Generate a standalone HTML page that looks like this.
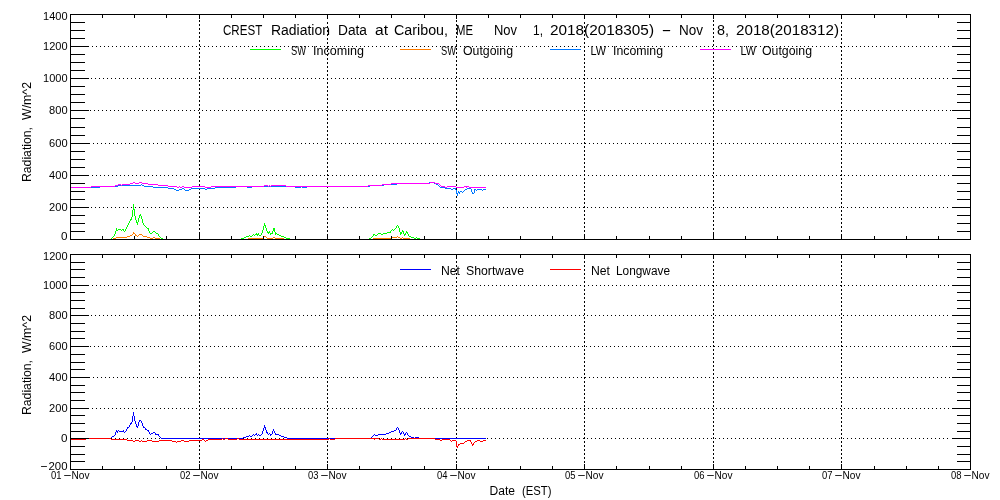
<!DOCTYPE html>
<html lang="en"><head><meta charset="utf-8"><title>CREST Radiation Data at Caribou, ME</title>
<style>html,body{margin:0;padding:0;background:#fff;}body{width:1000px;height:500px;overflow:hidden;}svg{display:block;}text{font-family:"Liberation Sans",sans-serif;fill:#000;}.t{font-size:14px;}.l{font-size:12.5px;}.a{font-size:11px;}.g line,.g path,.g rect{shape-rendering:crispEdges;}path{fill:none;stroke-width:1;}line{stroke:#000;stroke-width:1;}</style></head><body>
<svg width="1000" height="500" viewBox="0 0 1000 500" class="g">
<rect x="0" y="0" width="1000" height="500" fill="#fff"/>
<line x1="92" y1="46.5" x2="951" y2="46.5" stroke-dasharray="1 3"/>
<line x1="91" y1="78.5" x2="951" y2="78.5" stroke-dasharray="1 3"/>
<line x1="90" y1="110.5" x2="951" y2="110.5" stroke-dasharray="1 3"/>
<line x1="93" y1="143.5" x2="951" y2="143.5" stroke-dasharray="1 3"/>
<line x1="92" y1="175.5" x2="951" y2="175.5" stroke-dasharray="1 3"/>
<line x1="91" y1="207.5" x2="951" y2="207.5" stroke-dasharray="1 3"/>
<line x1="92" y1="285.5" x2="951" y2="285.5" stroke-dasharray="1 3"/>
<line x1="91" y1="315.5" x2="951" y2="315.5" stroke-dasharray="1 3"/>
<line x1="90" y1="346.5" x2="951" y2="346.5" stroke-dasharray="1 3"/>
<line x1="93" y1="377.5" x2="951" y2="377.5" stroke-dasharray="1 3"/>
<line x1="92" y1="408.5" x2="951" y2="408.5" stroke-dasharray="1 3"/>
<line x1="91" y1="438.5" x2="951" y2="438.5" stroke-dasharray="1 3"/>
<line x1="199.5" y1="20" x2="199.5" y2="239" stroke-dasharray="2 2"/>
<line x1="327.5" y1="22" x2="327.5" y2="239" stroke-dasharray="2 2"/>
<line x1="456.5" y1="20" x2="456.5" y2="239" stroke-dasharray="2 2"/>
<line x1="584.5" y1="22" x2="584.5" y2="239" stroke-dasharray="2 2"/>
<line x1="713.5" y1="20" x2="713.5" y2="239" stroke-dasharray="2 2"/>
<line x1="841.5" y1="22" x2="841.5" y2="239" stroke-dasharray="2 2"/>
<line x1="199.5" y1="261" x2="199.5" y2="469" stroke-dasharray="2 2"/>
<line x1="327.5" y1="261" x2="327.5" y2="469" stroke-dasharray="2 2"/>
<line x1="456.5" y1="261" x2="456.5" y2="469" stroke-dasharray="2 2"/>
<line x1="584.5" y1="261" x2="584.5" y2="469" stroke-dasharray="2 2"/>
<line x1="713.5" y1="261" x2="713.5" y2="469" stroke-dasharray="2 2"/>
<line x1="841.5" y1="261" x2="841.5" y2="469" stroke-dasharray="2 2"/>
<path d="M133 204.5h1M133 205.5h1M133 206.5h1M133 207.5h1M133 208.5h1M133 209.5h2M132 210.5h1M134 210.5h1M132 211.5h1M134 211.5h1M132 212.5h1M134 212.5h1M132 213.5h1M134 213.5h1M132 214.5h1M134 214.5h1M140 214.5h1M132 215.5h1M134 215.5h1M139 215.5h2M132 216.5h1M135 216.5h1M139 216.5h1M141 216.5h1M131 217.5h1M135 217.5h1M139 217.5h1M141 217.5h1M131 218.5h1M135 218.5h1M138 218.5h1M141 218.5h1M130 219.5h2M135 219.5h1M138 219.5h1M142 219.5h1M130 220.5h1M136 220.5h1M138 220.5h1M142 220.5h1M129 221.5h1M136 221.5h1M138 221.5h1M142 221.5h1M129 222.5h1M136 222.5h2M142 222.5h1M128 223.5h1M137 223.5h1M143 223.5h1M128 224.5h1M137 224.5h1M143 224.5h1M127 225.5h1M144 225.5h1M127 226.5h1M145 226.5h1M126 227.5h1M146 227.5h1M116 228.5h1M126 228.5h1M147 228.5h2M116 229.5h1M118 229.5h3M122 229.5h2M125 229.5h1M148 229.5h1M116 230.5h2M121 230.5h1M123 230.5h1M125 230.5h1M148 230.5h1M115 231.5h1M124 231.5h1M149 231.5h1M153 231.5h2M115 232.5h1M149 232.5h1M152 232.5h1M155 232.5h1M115 233.5h1M150 233.5h2M156 233.5h2M114 234.5h1M158 234.5h1M114 235.5h1M158 235.5h1M113 236.5h1M159 236.5h1M112 237.5h1M160 237.5h1M111 238.5h1M161 238.5h2M110 239.5h1" stroke="#00ff00"/>
<path d="M264 223.5h1M264 224.5h1M264 225.5h2M263 226.5h1M265 226.5h1M263 227.5h1M265 227.5h1M263 228.5h1M266 228.5h1M273 228.5h2M263 229.5h1M266 229.5h1M273 229.5h2M262 230.5h1M266 230.5h1M273 230.5h2M262 231.5h1M267 231.5h1M269 231.5h1M272 231.5h1M274 231.5h1M262 232.5h1M267 232.5h3M272 232.5h1M275 232.5h1M256 233.5h1M258 233.5h1M261 233.5h1M268 233.5h1M270 233.5h3M275 233.5h2M253 234.5h1M255 234.5h4M261 234.5h1M270 234.5h1M275 234.5h1M277 234.5h2M249 235.5h1M252 235.5h1M254 235.5h1M257 235.5h1M259 235.5h2M279 235.5h2M246 236.5h3M250 236.5h2M281 236.5h3M244 237.5h2M284 237.5h2M241 238.5h3M286 238.5h4M240 239.5h1M290 239.5h1" stroke="#00ff00"/>
<path d="M397 225.5h1M396 226.5h1M398 226.5h1M396 227.5h1M398 227.5h1M395 228.5h1M399 228.5h1M392 229.5h1M394 229.5h1M399 229.5h1M391 230.5h1M393 230.5h1M399 230.5h1M402 230.5h1M390 231.5h1M399 231.5h1M402 231.5h2M406 231.5h1M387 232.5h4M400 232.5h2M403 232.5h1M406 232.5h2M378 233.5h3M383 233.5h4M400 233.5h2M403 233.5h1M405 233.5h1M407 233.5h1M373 234.5h2M377 234.5h1M381 234.5h2M400 234.5h1M404 234.5h2M408 234.5h1M373 235.5h1M375 235.5h2M404 235.5h1M408 235.5h1M372 236.5h1M409 236.5h2M371 237.5h1M411 237.5h3M416 237.5h1M369 238.5h2M414 238.5h2M417 238.5h3M369 239.5h1" stroke="#00ff00"/>
<path d="M133 232.5h1M133 233.5h2M132 234.5h1M135 234.5h1M139 234.5h3M130 235.5h2M135 235.5h2M138 235.5h1M142 235.5h1M127 236.5h3M137 236.5h1M143 236.5h4M116 237.5h11M147 237.5h3M153 237.5h2M113 238.5h3M150 238.5h3M155 238.5h5" stroke="#ff7d00"/>
<path d="M264 236.5h2M263 237.5h1M266 237.5h1M273 237.5h2M248 238.5h16M267 238.5h6M275 238.5h9" stroke="#ff7d00"/>
<path d="M397 236.5h1M391 237.5h6M398 237.5h2M402 237.5h1M373 238.5h18M400 238.5h2M403 238.5h7" stroke="#ff7d00"/>
<path d="M429 182.5h5M397 183.5h32M434 183.5h2M141 184.5h1M384 184.5h13M436 184.5h2M118 185.5h23M142 185.5h2M370 185.5h14M438 185.5h1M100 186.5h18M144 186.5h9M236 186.5h11M252 186.5h43M301 186.5h1M307 186.5h63M439 186.5h1M70 187.5h30M153 187.5h15M215 187.5h21M247 187.5h5M295 187.5h6M302 187.5h5M440 187.5h5M168 188.5h6M182 188.5h2M191 188.5h14M207 188.5h8M445 188.5h6M453 188.5h3M467 188.5h4M174 189.5h2M179 189.5h3M184 189.5h1M189 189.5h2M205 189.5h2M451 189.5h2M455 189.5h1M465 189.5h2M471 189.5h1M474 189.5h2M477 189.5h5M483 189.5h3M176 190.5h3M185 190.5h4M456 190.5h1M464 190.5h1M471 190.5h1M474 190.5h1M476 190.5h1M482 190.5h1M456 191.5h1M458 191.5h1M460 191.5h2M463 191.5h1M471 191.5h1M474 191.5h1M456 192.5h1M458 192.5h2M462 192.5h1M472 192.5h1M474 192.5h1M456 193.5h2M459 193.5h1M472 193.5h2M457 194.5h1M457 195.5h1" stroke="#0078ff"/>
<path d="M133 182.5h2M139 182.5h3M430 182.5h5M130 183.5h3M135 183.5h4M142 183.5h6M391 183.5h39M435 183.5h4M118 184.5h3M122 184.5h8M148 184.5h10M382 184.5h9M439 184.5h1M115 185.5h3M121 185.5h1M158 185.5h10M264 185.5h4M269 185.5h1M271 185.5h15M368 185.5h14M440 185.5h1M91 186.5h24M168 186.5h9M179 186.5h1M182 186.5h2M192 186.5h13M211 186.5h53M268 186.5h1M270 186.5h1M286 186.5h82M441 186.5h4M447 186.5h9M464 186.5h5M70 187.5h21M177 187.5h2M180 187.5h2M184 187.5h8M205 187.5h6M445 187.5h2M456 187.5h8M466 187.5h1M469 187.5h17" stroke="#ff00ff"/>
<path d="M133 412.5h1M133 413.5h1M133 414.5h1M133 415.5h1M132 416.5h1M134 416.5h1M132 417.5h1M134 417.5h1M132 418.5h1M134 418.5h1M132 419.5h1M134 419.5h1M132 420.5h1M134 420.5h1M139 420.5h2M132 421.5h1M135 421.5h1M139 421.5h1M141 421.5h1M131 422.5h1M135 422.5h1M138 422.5h1M141 422.5h1M130 423.5h2M135 423.5h1M138 423.5h1M142 423.5h1M130 424.5h1M136 424.5h1M138 424.5h1M142 424.5h1M129 425.5h1M136 425.5h1M138 425.5h1M142 425.5h1M264 425.5h1M129 426.5h1M136 426.5h2M143 426.5h1M264 426.5h1M127 427.5h2M137 427.5h1M143 427.5h2M264 427.5h2M397 427.5h1M127 428.5h1M145 428.5h1M263 428.5h1M265 428.5h1M396 428.5h1M398 428.5h1M126 429.5h1M145 429.5h2M263 429.5h1M265 429.5h1M273 429.5h1M396 429.5h1M398 429.5h1M116 430.5h1M118 430.5h1M123 430.5h1M126 430.5h1M147 430.5h2M263 430.5h1M266 430.5h1M273 430.5h1M394 430.5h2M399 430.5h1M116 431.5h2M119 431.5h5M125 431.5h1M148 431.5h1M262 431.5h1M266 431.5h1M272 431.5h1M274 431.5h1M391 431.5h3M399 431.5h1M402 431.5h1M115 432.5h1M117 432.5h1M124 432.5h1M149 432.5h1M153 432.5h2M262 432.5h1M266 432.5h2M272 432.5h1M274 432.5h1M389 432.5h2M399 432.5h1M401 432.5h1M403 432.5h1M406 432.5h1M115 433.5h1M149 433.5h1M151 433.5h2M155 433.5h1M256 433.5h1M262 433.5h1M267 433.5h1M269 433.5h1M272 433.5h1M275 433.5h1M386 433.5h3M400 433.5h2M403 433.5h1M405 433.5h1M407 433.5h1M115 434.5h1M150 434.5h1M155 434.5h4M253 434.5h1M255 434.5h2M258 434.5h1M261 434.5h1M268 434.5h1M270 434.5h2M275 434.5h4M374 434.5h1M378 434.5h8M400 434.5h1M404 434.5h2M407 434.5h1M114 435.5h1M158 435.5h1M249 435.5h1M252 435.5h1M254 435.5h1M257 435.5h1M259 435.5h2M270 435.5h1M279 435.5h2M373 435.5h1M375 435.5h3M404 435.5h1M408 435.5h1M112 436.5h2M159 436.5h1M246 436.5h3M250 436.5h2M281 436.5h3M372 436.5h1M409 436.5h2M111 437.5h1M160 437.5h1M243 437.5h3M284 437.5h3M371 437.5h1M411 437.5h3M415 437.5h4M70 438.5h41M161 438.5h82M287 438.5h84M414 438.5h1M419 438.5h67" stroke="#0000ff"/>
<path d="M86 438.5h25M222 438.5h1M225 438.5h3M237 438.5h2M329 438.5h1M335 438.5h44M381 438.5h1M405 438.5h1M408 438.5h27M70 439.5h16M111 439.5h16M202 439.5h2M208 439.5h14M223 439.5h2M228 439.5h9M239 439.5h90M330 439.5h5M374 439.5h1M379 439.5h2M382 439.5h23M406 439.5h2M435 439.5h5M442 439.5h8M127 440.5h6M135 440.5h4M141 440.5h1M147 440.5h5M159 440.5h13M181 440.5h3M189 440.5h13M204 440.5h1M206 440.5h2M440 440.5h2M450 440.5h1M452 440.5h4M467 440.5h4M477 440.5h3M483 440.5h3M133 441.5h2M139 441.5h2M142 441.5h5M152 441.5h7M172 441.5h4M177 441.5h4M184 441.5h5M205 441.5h1M451 441.5h1M456 441.5h1M465 441.5h2M470 441.5h1M475 441.5h2M480 441.5h3M176 442.5h1M456 442.5h1M464 442.5h1M471 442.5h1M474 442.5h1M456 443.5h1M460 443.5h4M471 443.5h1M473 443.5h1M456 444.5h1M458 444.5h2M472 444.5h2M456 445.5h1M458 445.5h1M472 445.5h1M456 446.5h2M457 447.5h1" stroke="#ff0000"/>
<line x1="250" y1="49.5" x2="281" y2="49.5" style="stroke:#00ff00"/>
<line x1="400" y1="49.5" x2="431" y2="49.5" style="stroke:#ff7d00"/>
<line x1="550" y1="49.5" x2="581" y2="49.5" style="stroke:#0078ff"/>
<line x1="700" y1="49.5" x2="731" y2="49.5" style="stroke:#ff00ff"/>
<line x1="400" y1="269.5" x2="431" y2="269.5" style="stroke:#0000ff"/>
<line x1="550" y1="269.5" x2="581" y2="269.5" style="stroke:#ff0000"/>
<line x1="70" y1="14.5" x2="971" y2="14.5"/>
<line x1="70" y1="239.5" x2="971" y2="239.5"/>
<line x1="70.5" y1="14" x2="70.5" y2="240"/>
<line x1="970.5" y1="14" x2="970.5" y2="240"/>
<line x1="70" y1="239.5" x2="89" y2="239.5"/>
<line x1="952" y1="239.5" x2="971" y2="239.5"/>
<line x1="70" y1="231.5" x2="85" y2="231.5"/>
<line x1="957" y1="231.5" x2="971" y2="231.5"/>
<line x1="70" y1="223.5" x2="85" y2="223.5"/>
<line x1="957" y1="223.5" x2="971" y2="223.5"/>
<line x1="70" y1="215.5" x2="85" y2="215.5"/>
<line x1="957" y1="215.5" x2="971" y2="215.5"/>
<line x1="70" y1="207.5" x2="89" y2="207.5"/>
<line x1="952" y1="207.5" x2="971" y2="207.5"/>
<line x1="70" y1="199.5" x2="85" y2="199.5"/>
<line x1="957" y1="199.5" x2="971" y2="199.5"/>
<line x1="70" y1="191.5" x2="85" y2="191.5"/>
<line x1="957" y1="191.5" x2="971" y2="191.5"/>
<line x1="70" y1="183.5" x2="85" y2="183.5"/>
<line x1="957" y1="183.5" x2="971" y2="183.5"/>
<line x1="70" y1="175.5" x2="89" y2="175.5"/>
<line x1="952" y1="175.5" x2="971" y2="175.5"/>
<line x1="70" y1="167.5" x2="85" y2="167.5"/>
<line x1="957" y1="167.5" x2="971" y2="167.5"/>
<line x1="70" y1="159.5" x2="85" y2="159.5"/>
<line x1="957" y1="159.5" x2="971" y2="159.5"/>
<line x1="70" y1="151.5" x2="85" y2="151.5"/>
<line x1="957" y1="151.5" x2="971" y2="151.5"/>
<line x1="70" y1="143.5" x2="89" y2="143.5"/>
<line x1="952" y1="143.5" x2="971" y2="143.5"/>
<line x1="70" y1="135.5" x2="85" y2="135.5"/>
<line x1="957" y1="135.5" x2="971" y2="135.5"/>
<line x1="70" y1="127.5" x2="85" y2="127.5"/>
<line x1="957" y1="127.5" x2="971" y2="127.5"/>
<line x1="70" y1="118.5" x2="85" y2="118.5"/>
<line x1="957" y1="118.5" x2="971" y2="118.5"/>
<line x1="70" y1="110.5" x2="89" y2="110.5"/>
<line x1="952" y1="110.5" x2="971" y2="110.5"/>
<line x1="70" y1="102.5" x2="85" y2="102.5"/>
<line x1="957" y1="102.5" x2="971" y2="102.5"/>
<line x1="70" y1="94.5" x2="85" y2="94.5"/>
<line x1="957" y1="94.5" x2="971" y2="94.5"/>
<line x1="70" y1="86.5" x2="85" y2="86.5"/>
<line x1="957" y1="86.5" x2="971" y2="86.5"/>
<line x1="70" y1="78.5" x2="89" y2="78.5"/>
<line x1="952" y1="78.5" x2="971" y2="78.5"/>
<line x1="70" y1="70.5" x2="85" y2="70.5"/>
<line x1="957" y1="70.5" x2="971" y2="70.5"/>
<line x1="70" y1="62.5" x2="85" y2="62.5"/>
<line x1="957" y1="62.5" x2="971" y2="62.5"/>
<line x1="70" y1="54.5" x2="85" y2="54.5"/>
<line x1="957" y1="54.5" x2="971" y2="54.5"/>
<line x1="70" y1="46.5" x2="89" y2="46.5"/>
<line x1="952" y1="46.5" x2="971" y2="46.5"/>
<line x1="70" y1="38.5" x2="85" y2="38.5"/>
<line x1="957" y1="38.5" x2="971" y2="38.5"/>
<line x1="70" y1="30.5" x2="85" y2="30.5"/>
<line x1="957" y1="30.5" x2="971" y2="30.5"/>
<line x1="70" y1="22.5" x2="85" y2="22.5"/>
<line x1="957" y1="22.5" x2="971" y2="22.5"/>
<line x1="70" y1="14.5" x2="89" y2="14.5"/>
<line x1="952" y1="14.5" x2="971" y2="14.5"/>
<line x1="70.5" y1="14" x2="70.5" y2="19"/>
<line x1="70.5" y1="234" x2="70.5" y2="240"/>
<line x1="102.5" y1="14" x2="102.5" y2="18"/>
<line x1="102.5" y1="236" x2="102.5" y2="240"/>
<line x1="134.5" y1="14" x2="134.5" y2="18"/>
<line x1="134.5" y1="236" x2="134.5" y2="240"/>
<line x1="166.5" y1="14" x2="166.5" y2="18"/>
<line x1="166.5" y1="236" x2="166.5" y2="240"/>
<line x1="199.5" y1="14" x2="199.5" y2="19"/>
<line x1="199.5" y1="234" x2="199.5" y2="240"/>
<line x1="231.5" y1="14" x2="231.5" y2="18"/>
<line x1="231.5" y1="236" x2="231.5" y2="240"/>
<line x1="263.5" y1="14" x2="263.5" y2="18"/>
<line x1="263.5" y1="236" x2="263.5" y2="240"/>
<line x1="295.5" y1="14" x2="295.5" y2="18"/>
<line x1="295.5" y1="236" x2="295.5" y2="240"/>
<line x1="327.5" y1="14" x2="327.5" y2="19"/>
<line x1="327.5" y1="234" x2="327.5" y2="240"/>
<line x1="359.5" y1="14" x2="359.5" y2="18"/>
<line x1="359.5" y1="236" x2="359.5" y2="240"/>
<line x1="391.5" y1="14" x2="391.5" y2="18"/>
<line x1="391.5" y1="236" x2="391.5" y2="240"/>
<line x1="424.5" y1="14" x2="424.5" y2="18"/>
<line x1="424.5" y1="236" x2="424.5" y2="240"/>
<line x1="456.5" y1="14" x2="456.5" y2="19"/>
<line x1="456.5" y1="234" x2="456.5" y2="240"/>
<line x1="488.5" y1="14" x2="488.5" y2="18"/>
<line x1="488.5" y1="236" x2="488.5" y2="240"/>
<line x1="520.5" y1="14" x2="520.5" y2="18"/>
<line x1="520.5" y1="236" x2="520.5" y2="240"/>
<line x1="552.5" y1="14" x2="552.5" y2="18"/>
<line x1="552.5" y1="236" x2="552.5" y2="240"/>
<line x1="584.5" y1="14" x2="584.5" y2="19"/>
<line x1="584.5" y1="234" x2="584.5" y2="240"/>
<line x1="616.5" y1="14" x2="616.5" y2="18"/>
<line x1="616.5" y1="236" x2="616.5" y2="240"/>
<line x1="649.5" y1="14" x2="649.5" y2="18"/>
<line x1="649.5" y1="236" x2="649.5" y2="240"/>
<line x1="681.5" y1="14" x2="681.5" y2="18"/>
<line x1="681.5" y1="236" x2="681.5" y2="240"/>
<line x1="713.5" y1="14" x2="713.5" y2="19"/>
<line x1="713.5" y1="234" x2="713.5" y2="240"/>
<line x1="745.5" y1="14" x2="745.5" y2="18"/>
<line x1="745.5" y1="236" x2="745.5" y2="240"/>
<line x1="777.5" y1="14" x2="777.5" y2="18"/>
<line x1="777.5" y1="236" x2="777.5" y2="240"/>
<line x1="809.5" y1="14" x2="809.5" y2="18"/>
<line x1="809.5" y1="236" x2="809.5" y2="240"/>
<line x1="841.5" y1="14" x2="841.5" y2="19"/>
<line x1="841.5" y1="234" x2="841.5" y2="240"/>
<line x1="874.5" y1="14" x2="874.5" y2="18"/>
<line x1="874.5" y1="236" x2="874.5" y2="240"/>
<line x1="906.5" y1="14" x2="906.5" y2="18"/>
<line x1="906.5" y1="236" x2="906.5" y2="240"/>
<line x1="938.5" y1="14" x2="938.5" y2="18"/>
<line x1="938.5" y1="236" x2="938.5" y2="240"/>
<line x1="970.5" y1="14" x2="970.5" y2="19"/>
<line x1="970.5" y1="234" x2="970.5" y2="240"/>
<line x1="70" y1="254.5" x2="971" y2="254.5"/>
<line x1="70" y1="469.5" x2="971" y2="469.5"/>
<line x1="70.5" y1="254" x2="70.5" y2="470"/>
<line x1="970.5" y1="254" x2="970.5" y2="470"/>
<line x1="70" y1="469.5" x2="89" y2="469.5"/>
<line x1="952" y1="469.5" x2="971" y2="469.5"/>
<line x1="70" y1="461.5" x2="85" y2="461.5"/>
<line x1="957" y1="461.5" x2="971" y2="461.5"/>
<line x1="70" y1="454.5" x2="85" y2="454.5"/>
<line x1="957" y1="454.5" x2="971" y2="454.5"/>
<line x1="70" y1="446.5" x2="85" y2="446.5"/>
<line x1="957" y1="446.5" x2="971" y2="446.5"/>
<line x1="70" y1="438.5" x2="89" y2="438.5"/>
<line x1="952" y1="438.5" x2="971" y2="438.5"/>
<line x1="70" y1="431.5" x2="85" y2="431.5"/>
<line x1="957" y1="431.5" x2="971" y2="431.5"/>
<line x1="70" y1="423.5" x2="85" y2="423.5"/>
<line x1="957" y1="423.5" x2="971" y2="423.5"/>
<line x1="70" y1="415.5" x2="85" y2="415.5"/>
<line x1="957" y1="415.5" x2="971" y2="415.5"/>
<line x1="70" y1="408.5" x2="89" y2="408.5"/>
<line x1="952" y1="408.5" x2="971" y2="408.5"/>
<line x1="70" y1="400.5" x2="85" y2="400.5"/>
<line x1="957" y1="400.5" x2="971" y2="400.5"/>
<line x1="70" y1="392.5" x2="85" y2="392.5"/>
<line x1="957" y1="392.5" x2="971" y2="392.5"/>
<line x1="70" y1="385.5" x2="85" y2="385.5"/>
<line x1="957" y1="385.5" x2="971" y2="385.5"/>
<line x1="70" y1="377.5" x2="89" y2="377.5"/>
<line x1="952" y1="377.5" x2="971" y2="377.5"/>
<line x1="70" y1="369.5" x2="85" y2="369.5"/>
<line x1="957" y1="369.5" x2="971" y2="369.5"/>
<line x1="70" y1="362.5" x2="85" y2="362.5"/>
<line x1="957" y1="362.5" x2="971" y2="362.5"/>
<line x1="70" y1="354.5" x2="85" y2="354.5"/>
<line x1="957" y1="354.5" x2="971" y2="354.5"/>
<line x1="70" y1="346.5" x2="89" y2="346.5"/>
<line x1="952" y1="346.5" x2="971" y2="346.5"/>
<line x1="70" y1="338.5" x2="85" y2="338.5"/>
<line x1="957" y1="338.5" x2="971" y2="338.5"/>
<line x1="70" y1="331.5" x2="85" y2="331.5"/>
<line x1="957" y1="331.5" x2="971" y2="331.5"/>
<line x1="70" y1="323.5" x2="85" y2="323.5"/>
<line x1="957" y1="323.5" x2="971" y2="323.5"/>
<line x1="70" y1="315.5" x2="89" y2="315.5"/>
<line x1="952" y1="315.5" x2="971" y2="315.5"/>
<line x1="70" y1="308.5" x2="85" y2="308.5"/>
<line x1="957" y1="308.5" x2="971" y2="308.5"/>
<line x1="70" y1="300.5" x2="85" y2="300.5"/>
<line x1="957" y1="300.5" x2="971" y2="300.5"/>
<line x1="70" y1="292.5" x2="85" y2="292.5"/>
<line x1="957" y1="292.5" x2="971" y2="292.5"/>
<line x1="70" y1="285.5" x2="89" y2="285.5"/>
<line x1="952" y1="285.5" x2="971" y2="285.5"/>
<line x1="70" y1="277.5" x2="85" y2="277.5"/>
<line x1="957" y1="277.5" x2="971" y2="277.5"/>
<line x1="70" y1="269.5" x2="85" y2="269.5"/>
<line x1="957" y1="269.5" x2="971" y2="269.5"/>
<line x1="70" y1="262.5" x2="85" y2="262.5"/>
<line x1="957" y1="262.5" x2="971" y2="262.5"/>
<line x1="70" y1="254.5" x2="89" y2="254.5"/>
<line x1="952" y1="254.5" x2="971" y2="254.5"/>
<line x1="70.5" y1="254" x2="70.5" y2="259"/>
<line x1="70.5" y1="464" x2="70.5" y2="470"/>
<line x1="102.5" y1="254" x2="102.5" y2="258"/>
<line x1="102.5" y1="466" x2="102.5" y2="470"/>
<line x1="134.5" y1="254" x2="134.5" y2="258"/>
<line x1="134.5" y1="466" x2="134.5" y2="470"/>
<line x1="166.5" y1="254" x2="166.5" y2="258"/>
<line x1="166.5" y1="466" x2="166.5" y2="470"/>
<line x1="199.5" y1="254" x2="199.5" y2="259"/>
<line x1="199.5" y1="464" x2="199.5" y2="470"/>
<line x1="231.5" y1="254" x2="231.5" y2="258"/>
<line x1="231.5" y1="466" x2="231.5" y2="470"/>
<line x1="263.5" y1="254" x2="263.5" y2="258"/>
<line x1="263.5" y1="466" x2="263.5" y2="470"/>
<line x1="295.5" y1="254" x2="295.5" y2="258"/>
<line x1="295.5" y1="466" x2="295.5" y2="470"/>
<line x1="327.5" y1="254" x2="327.5" y2="259"/>
<line x1="327.5" y1="464" x2="327.5" y2="470"/>
<line x1="359.5" y1="254" x2="359.5" y2="258"/>
<line x1="359.5" y1="466" x2="359.5" y2="470"/>
<line x1="391.5" y1="254" x2="391.5" y2="258"/>
<line x1="391.5" y1="466" x2="391.5" y2="470"/>
<line x1="424.5" y1="254" x2="424.5" y2="258"/>
<line x1="424.5" y1="466" x2="424.5" y2="470"/>
<line x1="456.5" y1="254" x2="456.5" y2="259"/>
<line x1="456.5" y1="464" x2="456.5" y2="470"/>
<line x1="488.5" y1="254" x2="488.5" y2="258"/>
<line x1="488.5" y1="466" x2="488.5" y2="470"/>
<line x1="520.5" y1="254" x2="520.5" y2="258"/>
<line x1="520.5" y1="466" x2="520.5" y2="470"/>
<line x1="552.5" y1="254" x2="552.5" y2="258"/>
<line x1="552.5" y1="466" x2="552.5" y2="470"/>
<line x1="584.5" y1="254" x2="584.5" y2="259"/>
<line x1="584.5" y1="464" x2="584.5" y2="470"/>
<line x1="616.5" y1="254" x2="616.5" y2="258"/>
<line x1="616.5" y1="466" x2="616.5" y2="470"/>
<line x1="649.5" y1="254" x2="649.5" y2="258"/>
<line x1="649.5" y1="466" x2="649.5" y2="470"/>
<line x1="681.5" y1="254" x2="681.5" y2="258"/>
<line x1="681.5" y1="466" x2="681.5" y2="470"/>
<line x1="713.5" y1="254" x2="713.5" y2="259"/>
<line x1="713.5" y1="464" x2="713.5" y2="470"/>
<line x1="745.5" y1="254" x2="745.5" y2="258"/>
<line x1="745.5" y1="466" x2="745.5" y2="470"/>
<line x1="777.5" y1="254" x2="777.5" y2="258"/>
<line x1="777.5" y1="466" x2="777.5" y2="470"/>
<line x1="809.5" y1="254" x2="809.5" y2="258"/>
<line x1="809.5" y1="466" x2="809.5" y2="470"/>
<line x1="841.5" y1="254" x2="841.5" y2="259"/>
<line x1="841.5" y1="464" x2="841.5" y2="470"/>
<line x1="874.5" y1="254" x2="874.5" y2="258"/>
<line x1="874.5" y1="466" x2="874.5" y2="470"/>
<line x1="906.5" y1="254" x2="906.5" y2="258"/>
<line x1="906.5" y1="466" x2="906.5" y2="470"/>
<line x1="938.5" y1="254" x2="938.5" y2="258"/>
<line x1="938.5" y1="466" x2="938.5" y2="470"/>
<line x1="970.5" y1="254" x2="970.5" y2="259"/>
<line x1="970.5" y1="464" x2="970.5" y2="470"/>
<line x1="70" y1="143.5" x2="90" y2="143.5"/>
<line x1="70" y1="377.5" x2="90" y2="377.5"/>
<text y="35" class="t"><tspan x="223" textLength="39" lengthAdjust="spacingAndGlyphs">CREST</tspan> <tspan x="271" textLength="59" lengthAdjust="spacingAndGlyphs">Radiation</tspan> <tspan x="338" textLength="29" lengthAdjust="spacingAndGlyphs">Data</tspan> <tspan x="375" textLength="13" lengthAdjust="spacingAndGlyphs">at</tspan> <tspan x="394" textLength="54" lengthAdjust="spacingAndGlyphs">Caribou,</tspan> <tspan x="456" textLength="17" lengthAdjust="spacingAndGlyphs">ME</tspan> <tspan x="494" textLength="23" lengthAdjust="spacingAndGlyphs">Nov</tspan> <tspan x="533" textLength="10" lengthAdjust="spacingAndGlyphs">1,</tspan> <tspan x="550" textLength="104" lengthAdjust="spacingAndGlyphs">2018(2018305)</tspan> <tspan x="661.5" textLength="10.0" lengthAdjust="spacingAndGlyphs">-</tspan> <tspan x="679" textLength="24" lengthAdjust="spacingAndGlyphs">Nov</tspan> <tspan x="717" textLength="12" lengthAdjust="spacingAndGlyphs">8,</tspan> <tspan x="736" textLength="103" lengthAdjust="spacingAndGlyphs">2018(2018312)</tspan></text>
<text y="55" class="l"><tspan x="291" textLength="15" lengthAdjust="spacingAndGlyphs">SW</tspan> <tspan x="313" textLength="51" lengthAdjust="spacingAndGlyphs">Incoming</tspan></text>
<text y="55" class="l"><tspan x="441" textLength="15" lengthAdjust="spacingAndGlyphs">SW</tspan> <tspan x="463" textLength="50" lengthAdjust="spacingAndGlyphs">Outgoing</tspan></text>
<text y="55" class="l"><tspan x="590.5" textLength="15.5" lengthAdjust="spacingAndGlyphs">LW</tspan> <tspan x="613" textLength="50" lengthAdjust="spacingAndGlyphs">Incoming</tspan></text>
<text y="55" class="l"><tspan x="740.5" textLength="15.5" lengthAdjust="spacingAndGlyphs">LW</tspan> <tspan x="762" textLength="50" lengthAdjust="spacingAndGlyphs">Outgoing</tspan></text>
<text y="275" class="l"><tspan x="441" textLength="19" lengthAdjust="spacingAndGlyphs">Net</tspan> <tspan x="466" textLength="58" lengthAdjust="spacingAndGlyphs">Shortwave</tspan></text>
<text y="275" class="l"><tspan x="591" textLength="19" lengthAdjust="spacingAndGlyphs">Net</tspan> <tspan x="616" textLength="54" lengthAdjust="spacingAndGlyphs">Longwave</tspan></text>
<text y="495" class="l"><tspan x="489.5" textLength="25.5" lengthAdjust="spacingAndGlyphs">Date</tspan> <tspan x="522" textLength="29.5" lengthAdjust="spacingAndGlyphs">(EST)</tspan></text>
<text x="61.099999999999994" y="240" class="a" textLength="6.5" lengthAdjust="spacingAndGlyphs">0</text>
<text x="49.099999999999994" y="211" class="a" textLength="18.5" lengthAdjust="spacingAndGlyphs">200</text>
<text x="49.099999999999994" y="179" class="a" textLength="18.5" lengthAdjust="spacingAndGlyphs">400</text>
<text x="49.099999999999994" y="147" class="a" textLength="18.5" lengthAdjust="spacingAndGlyphs">600</text>
<text x="49.099999999999994" y="114" class="a" textLength="18.5" lengthAdjust="spacingAndGlyphs">800</text>
<text x="43.099999999999994" y="82" class="a" textLength="24.5" lengthAdjust="spacingAndGlyphs">1000</text>
<text x="43.099999999999994" y="50" class="a" textLength="24.5" lengthAdjust="spacingAndGlyphs">1200</text>
<text x="43.099999999999994" y="20" class="a" textLength="24.5" lengthAdjust="spacingAndGlyphs">1400</text>
<text y="470" class="a"><tspan x="40" dy="-1" textLength="8" lengthAdjust="spacingAndGlyphs">-</tspan><tspan x="48.5" dy="1" textLength="19" lengthAdjust="spacingAndGlyphs">200</tspan></text>
<text x="61.099999999999994" y="442" class="a" textLength="6.5" lengthAdjust="spacingAndGlyphs">0</text>
<text x="49.099999999999994" y="412" class="a" textLength="18.5" lengthAdjust="spacingAndGlyphs">200</text>
<text x="49.099999999999994" y="381" class="a" textLength="18.5" lengthAdjust="spacingAndGlyphs">400</text>
<text x="49.099999999999994" y="350" class="a" textLength="18.5" lengthAdjust="spacingAndGlyphs">600</text>
<text x="49.099999999999994" y="319" class="a" textLength="18.5" lengthAdjust="spacingAndGlyphs">800</text>
<text x="43.099999999999994" y="289" class="a" textLength="24.5" lengthAdjust="spacingAndGlyphs">1000</text>
<text x="43.099999999999994" y="260" class="a" textLength="24.5" lengthAdjust="spacingAndGlyphs">1200</text>
<text y="479" class="a"><tspan x="51" textLength="10.5" lengthAdjust="spacingAndGlyphs">01</tspan><tspan x="63" dy="-1" textLength="9" lengthAdjust="spacingAndGlyphs">-</tspan><tspan x="71.5" dy="1" textLength="18" lengthAdjust="spacingAndGlyphs">Nov</tspan></text>
<text y="479" class="a"><tspan x="180" textLength="10.5" lengthAdjust="spacingAndGlyphs">02</tspan><tspan x="192" dy="-1" textLength="9" lengthAdjust="spacingAndGlyphs">-</tspan><tspan x="200.5" dy="1" textLength="18" lengthAdjust="spacingAndGlyphs">Nov</tspan></text>
<text y="479" class="a"><tspan x="308" textLength="10.5" lengthAdjust="spacingAndGlyphs">03</tspan><tspan x="320" dy="-1" textLength="9" lengthAdjust="spacingAndGlyphs">-</tspan><tspan x="328.5" dy="1" textLength="18" lengthAdjust="spacingAndGlyphs">Nov</tspan></text>
<text y="479" class="a"><tspan x="437" textLength="10.5" lengthAdjust="spacingAndGlyphs">04</tspan><tspan x="449" dy="-1" textLength="9" lengthAdjust="spacingAndGlyphs">-</tspan><tspan x="457.5" dy="1" textLength="18" lengthAdjust="spacingAndGlyphs">Nov</tspan></text>
<text y="479" class="a"><tspan x="565" textLength="10.5" lengthAdjust="spacingAndGlyphs">05</tspan><tspan x="577" dy="-1" textLength="9" lengthAdjust="spacingAndGlyphs">-</tspan><tspan x="585.5" dy="1" textLength="18" lengthAdjust="spacingAndGlyphs">Nov</tspan></text>
<text y="479" class="a"><tspan x="694" textLength="10.5" lengthAdjust="spacingAndGlyphs">06</tspan><tspan x="706" dy="-1" textLength="9" lengthAdjust="spacingAndGlyphs">-</tspan><tspan x="714.5" dy="1" textLength="18" lengthAdjust="spacingAndGlyphs">Nov</tspan></text>
<text y="479" class="a"><tspan x="822" textLength="10.5" lengthAdjust="spacingAndGlyphs">07</tspan><tspan x="834" dy="-1" textLength="9" lengthAdjust="spacingAndGlyphs">-</tspan><tspan x="842.5" dy="1" textLength="18" lengthAdjust="spacingAndGlyphs">Nov</tspan></text>
<text y="479" class="a"><tspan x="951" textLength="10.5" lengthAdjust="spacingAndGlyphs">08</tspan><tspan x="963" dy="-1" textLength="9" lengthAdjust="spacingAndGlyphs">-</tspan><tspan x="971.5" dy="1" textLength="18" lengthAdjust="spacingAndGlyphs">Nov</tspan></text>
<text transform="translate(31,182) rotate(-90)" class="l"><tspan x="0" y="0" textLength="55" lengthAdjust="spacingAndGlyphs">Radiation,</tspan><tspan x="62" y="0" textLength="38" lengthAdjust="spacingAndGlyphs">W/m^2</tspan></text>
<text transform="translate(31,415) rotate(-90)" class="l"><tspan x="0" y="0" textLength="55" lengthAdjust="spacingAndGlyphs">Radiation,</tspan><tspan x="62" y="0" textLength="38" lengthAdjust="spacingAndGlyphs">W/m^2</tspan></text>
</svg>
</body></html>
